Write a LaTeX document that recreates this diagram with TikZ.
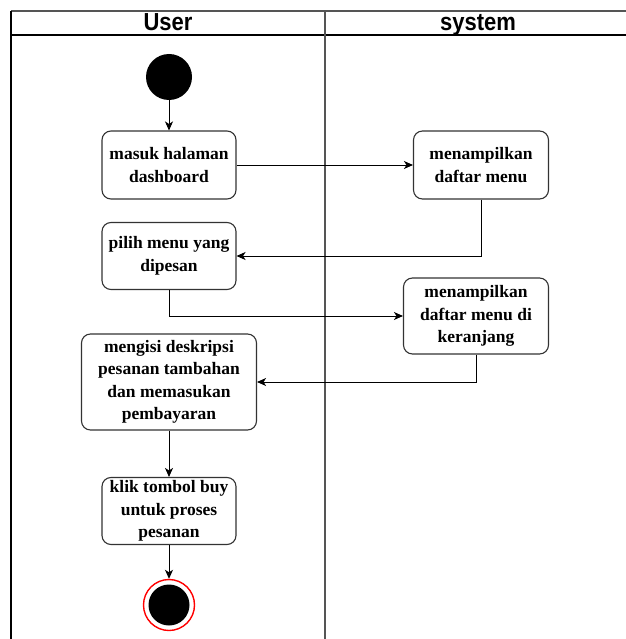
\documentclass[tikz,border=0pt]{standalone}
\usepackage{fontspec}
\setmainfont{Liberation Serif}
\newfontfamily\headfont{Liberation Sans}
\usetikzlibrary{arrows.meta}
\definecolor{laneline}{HTML}{555555}
\definecolor{boxline}{HTML}{333333}
\begin{document}
\begin{tikzpicture}[x=1pt,y=-1pt,
  act/.style={draw=boxline, line width=1.1pt, rounded corners=9pt, fill=white,
    align=center, inner sep=0pt,
    font=\bfseries\fontsize{17.5}{22.5}\selectfont},
  flow/.style={draw=black, line width=0.9pt,
    -{Stealth[length=9pt,width=8pt,inset=2.5pt]}},
  lanehead/.style={font=\headfont\bfseries\fontsize{22}{24}\selectfont,
    anchor=base, inner sep=0pt}]
\useasboundingbox (0,0) rectangle (625,639);

% swimlane frame
\draw[laneline, line width=1.2pt] (11,11) -- (640,11);
\draw[black, line width=1.2pt] (11,35) -- (640,35);
\draw[black, line width=1.6pt] (11,11) -- (11,639);
\draw[laneline, line width=1.1pt] (325,11) -- (325,639);
\node[lanehead] (hUser) at (168,31) {\scalebox{1}[1.12]{User}};
\node[lanehead] (hSystem) at (478,31) {\scalebox{1}[1.12]{system}};

% start and end states
\node[circle, fill=black, minimum size=46pt, inner sep=0pt] (start) at (169,77) {};
\node[circle, draw=red, line width=1.4pt, fill=white, minimum size=51pt, inner sep=0pt] (end) at (169,605) {};
\node[circle, fill=black, minimum size=41pt, inner sep=0pt] (endcore) at (169,605) {};

% activities
\node[act, minimum width=134pt, minimum height=68pt] (masuk) at (169,165) {masuk halaman\\dashboard};
\node[act, minimum width=135pt, minimum height=68pt] (tampil) at (481,165) {menampilkan\\daftar menu};
\node[act, minimum width=134pt, minimum height=67pt] (pilih) at (169,256) {pilih menu yang\\dipesan};
\node[act, minimum width=145pt, minimum height=76pt] (keranjang) at (476,316) {menampilkan\\daftar menu di\\keranjang};
\node[act, minimum width=175pt, minimum height=96pt] (isi) at (169,382) {mengisi deskripsi\\pesanan tambahan\\dan memasukan\\pembayaran};
\node[act, minimum width=134pt, minimum height=67pt] (klik) at (169,511) {klik tombol buy\\untuk proses\\pesanan};

% control flow
\draw[flow] (start) -- (masuk);
\draw[flow] (masuk) -- (tampil);
\draw[flow] (tampil.south) |- (pilih.east);
\draw[flow] (pilih.south) |- (keranjang.west);
\draw[flow] (keranjang.south) |- (isi.east);
\draw[flow] (isi) -- (klik);
\draw[flow] (klik) -- (end);
\end{tikzpicture}
\end{document}
